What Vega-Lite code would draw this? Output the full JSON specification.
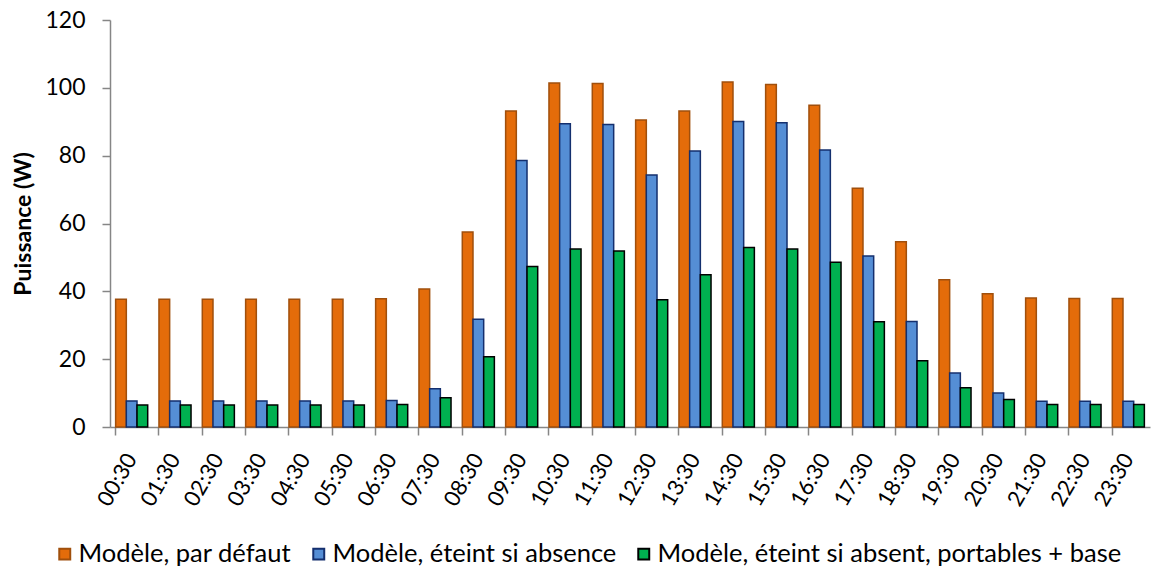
{
  "$schema": "https://vega.github.io/schema/vega-lite/v6.json",
  "width": 1040,
  "height": 407,
  "autosize": "none",
  "padding": {"left": 110, "top": 20, "right": 1, "bottom": 143},
  "background": "white",
  "config": {
    "view": {"stroke": null},
    "font": "Lato",
    "axis": {"grid": false, "domainColor": "#868686", "tickColor": "#868686", "labelColor": "#000000", "titleColor": "#000000", "labelFont": "Lato", "titleFont": "Lato"}
  },
  "data": {"values": [
    {"t":"00:30","s":"Modèle, par défaut","v":37.7},{"t":"00:30","s":"Modèle, éteint si absence","v":7.7},{"t":"00:30","s":"Modèle, éteint si absent, portables + base","v":6.5},
    {"t":"01:30","s":"Modèle, par défaut","v":37.7},{"t":"01:30","s":"Modèle, éteint si absence","v":7.7},{"t":"01:30","s":"Modèle, éteint si absent, portables + base","v":6.5},
    {"t":"02:30","s":"Modèle, par défaut","v":37.7},{"t":"02:30","s":"Modèle, éteint si absence","v":7.7},{"t":"02:30","s":"Modèle, éteint si absent, portables + base","v":6.5},
    {"t":"03:30","s":"Modèle, par défaut","v":37.7},{"t":"03:30","s":"Modèle, éteint si absence","v":7.7},{"t":"03:30","s":"Modèle, éteint si absent, portables + base","v":6.5},
    {"t":"04:30","s":"Modèle, par défaut","v":37.7},{"t":"04:30","s":"Modèle, éteint si absence","v":7.7},{"t":"04:30","s":"Modèle, éteint si absent, portables + base","v":6.5},
    {"t":"05:30","s":"Modèle, par défaut","v":37.7},{"t":"05:30","s":"Modèle, éteint si absence","v":7.7},{"t":"05:30","s":"Modèle, éteint si absent, portables + base","v":6.5},
    {"t":"06:30","s":"Modèle, par défaut","v":37.8},{"t":"06:30","s":"Modèle, éteint si absence","v":7.8},{"t":"06:30","s":"Modèle, éteint si absent, portables + base","v":6.6},
    {"t":"07:30","s":"Modèle, par défaut","v":40.7},{"t":"07:30","s":"Modèle, éteint si absence","v":11.3},{"t":"07:30","s":"Modèle, éteint si absent, portables + base","v":8.6},
    {"t":"08:30","s":"Modèle, par défaut","v":57.5},{"t":"08:30","s":"Modèle, éteint si absence","v":31.8},{"t":"08:30","s":"Modèle, éteint si absent, portables + base","v":20.7},
    {"t":"09:30","s":"Modèle, par défaut","v":93.2},{"t":"09:30","s":"Modèle, éteint si absence","v":78.6},{"t":"09:30","s":"Modèle, éteint si absent, portables + base","v":47.3},
    {"t":"10:30","s":"Modèle, par défaut","v":101.4},{"t":"10:30","s":"Modèle, éteint si absence","v":89.4},{"t":"10:30","s":"Modèle, éteint si absent, portables + base","v":52.5},
    {"t":"11:30","s":"Modèle, par défaut","v":101.3},{"t":"11:30","s":"Modèle, éteint si absence","v":89.2},{"t":"11:30","s":"Modèle, éteint si absent, portables + base","v":51.9},
    {"t":"12:30","s":"Modèle, par défaut","v":90.5},{"t":"12:30","s":"Modèle, éteint si absence","v":74.3},{"t":"12:30","s":"Modèle, éteint si absent, portables + base","v":37.5},
    {"t":"13:30","s":"Modèle, par défaut","v":93.2},{"t":"13:30","s":"Modèle, éteint si absence","v":81.4},{"t":"13:30","s":"Modèle, éteint si absent, portables + base","v":44.9},
    {"t":"14:30","s":"Modèle, par défaut","v":101.7},{"t":"14:30","s":"Modèle, éteint si absence","v":90.1},{"t":"14:30","s":"Modèle, éteint si absent, portables + base","v":52.9},
    {"t":"15:30","s":"Modèle, par défaut","v":101.0},{"t":"15:30","s":"Modèle, éteint si absence","v":89.7},{"t":"15:30","s":"Modèle, éteint si absent, portables + base","v":52.5},
    {"t":"16:30","s":"Modèle, par défaut","v":94.9},{"t":"16:30","s":"Modèle, éteint si absence","v":81.7},{"t":"16:30","s":"Modèle, éteint si absent, portables + base","v":48.6},
    {"t":"17:30","s":"Modèle, par défaut","v":70.4},{"t":"17:30","s":"Modèle, éteint si absence","v":50.4},{"t":"17:30","s":"Modèle, éteint si absent, portables + base","v":31.0},
    {"t":"18:30","s":"Modèle, par défaut","v":54.6},{"t":"18:30","s":"Modèle, éteint si absence","v":31.1},{"t":"18:30","s":"Modèle, éteint si absent, portables + base","v":19.5},
    {"t":"19:30","s":"Modèle, par défaut","v":43.4},{"t":"19:30","s":"Modèle, éteint si absence","v":15.9},{"t":"19:30","s":"Modèle, éteint si absent, portables + base","v":11.6},
    {"t":"20:30","s":"Modèle, par défaut","v":39.3},{"t":"20:30","s":"Modèle, éteint si absence","v":10.0},{"t":"20:30","s":"Modèle, éteint si absent, portables + base","v":8.1},
    {"t":"21:30","s":"Modèle, par défaut","v":38.0},{"t":"21:30","s":"Modèle, éteint si absence","v":7.6},{"t":"21:30","s":"Modèle, éteint si absent, portables + base","v":6.6},
    {"t":"22:30","s":"Modèle, par défaut","v":37.9},{"t":"22:30","s":"Modèle, éteint si absence","v":7.6},{"t":"22:30","s":"Modèle, éteint si absent, portables + base","v":6.6},
    {"t":"23:30","s":"Modèle, par défaut","v":37.9},{"t":"23:30","s":"Modèle, éteint si absence","v":7.6},{"t":"23:30","s":"Modèle, éteint si absent, portables + base","v":6.6}
  ]},
  "mark": {"type": "bar", "strokeWidth": 1.5},
  "encoding": {
    "x": {
      "field": "t", "type": "nominal", "sort": null, "title": null,
      "scale": {"paddingInner": 0.26, "paddingOuter": 0.13},
      "axis": {"labelAngle": -60, "labelFontSize": 22, "bandPosition": 0, "tickSize": 8, "labelPadding": 20, "domainWidth": 1.5, "tickWidth": 1.5}
    },
    "xOffset": {"field": "s", "type": "nominal", "sort": ["Modèle, par défaut", "Modèle, éteint si absence", "Modèle, éteint si absent, portables + base"]},
    "y": {
      "field": "v", "type": "quantitative", "title": "Puissance (W)",
      "scale": {"domain": [0, 120]},
      "axis": {"values": [0, 20, 40, 60, 80, 100, 120], "labelFontSize": 23, "tickSize": 8, "labelPadding": 17, "titleFontSize": 23, "titleFontWeight": "bold", "titlePadding": 9, "domainWidth": 1.5, "tickWidth": 1.5}
    },
    "fill": {
      "field": "s", "type": "nominal", "title": null,
      "sort": ["Modèle, par défaut", "Modèle, éteint si absence", "Modèle, éteint si absent, portables + base"],
      "scale": {"domain": ["Modèle, par défaut", "Modèle, éteint si absence", "Modèle, éteint si absent, portables + base"], "range": ["#E46C0A", "#558ED5", "#00B050"]},
      "legend": {"orient": "none", "legendX": -58, "legendY": 521, "direction": "horizontal", "labelFontSize": 25.5, "labelFont": "Lato", "labelColor": "#000000", "symbolType": "square", "symbolSize": 120, "symbolStrokeWidth": 2, "columnPadding": 14, "labelOffset": 1, "labelLimit": 700}
    },
    "stroke": {
      "field": "s", "type": "nominal", "title": null,
      "scale": {"domain": ["Modèle, par défaut", "Modèle, éteint si absence", "Modèle, éteint si absent, portables + base"], "range": ["#A04F0C", "#142F6E", "#000000"]}
    }
  }
}
